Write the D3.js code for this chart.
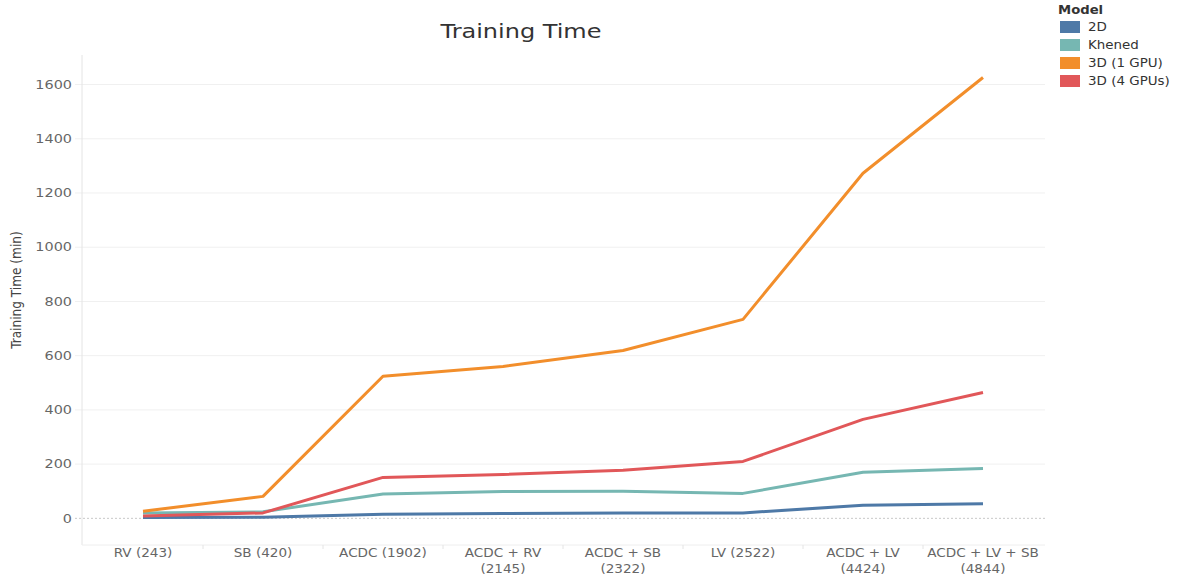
<!DOCTYPE html>
<html>
<head>
<meta charset="utf-8">
<script src="https://cdn.jsdelivr.net/npm/d3@7"></script>
<style>
  body { margin: 0; background: #fff; }
  text { font-family: "DejaVu Sans", Verdana, sans-serif; }
</style>
</head>
<body>
<svg id="chart" width="1178" height="577"></svg>
<script>
// datasets (number of images) on the x axis
const categories = [
  ["RV (243)"], ["SB (420)"], ["ACDC (1902)"], ["ACDC + RV", "(2145)"],
  ["ACDC + SB", "(2322)"], ["LV (2522)"], ["ACDC + LV", "(4424)"], ["ACDC + LV + SB", "(4844)"]
];
const models = ["2D", "Khened", "3D (1 GPU)", "3D (4 GPUs)"];
const colors = ["#4e79a7", "#76b7b2", "#f28e2b", "#e15759"];

// training time in minutes
const time2D     = [3, 4, 15, 18, 20, 20, 48, 54];
const timeKhened = [20, 24, 90, 99, 100, 92, 170, 184];
const time3D1    = [26, 81, 524, 560, 619, 734, 1273, 1626];
const time3D4    = [9, 20, 151, 162, 177, 210, 365, 464];
const series = [time2D, timeKhened, time3D1, time3D4];

const yTicks = [0, 200, 400, 600, 800, 1000, 1200, 1400, 1600];

const svg = d3.select("#chart");
const plotL = 83, plotR = 1043, plotT = 55, plotB = 543;
const stretch = 1.2; // the original text is drawn a bit wide

const x = d3.scaleBand().domain(d3.range(categories.length)).range([plotL, plotR]);
const y = d3.scaleLinear().domain([-91, 1709]).range([plotB, plotT]);

// gridlines
svg.append("g").selectAll("line")
  .data(yTicks.filter(d => d !== 0))
  .join("line")
    .attr("x1", plotL - 8).attr("x2", plotR + 2)
    .attr("y1", d => y(d)).attr("y2", d => y(d))
    .attr("stroke", "#f0f0f0").attr("stroke-width", 1);

// zero line
svg.append("line")
  .attr("x1", plotL - 8).attr("x2", plotR + 2)
  .attr("y1", y(0)).attr("y2", y(0))
  .attr("stroke", "#c8c8c8").attr("stroke-dasharray", "2,2");

// axis frame
svg.append("line")
  .attr("x1", plotL - 1).attr("x2", plotL - 1).attr("y1", plotT).attr("y2", plotB + 2)
  .attr("stroke", "#e4e4e4");
svg.append("line")
  .attr("x1", plotL - 1).attr("x2", plotR + 2).attr("y1", plotB + 2).attr("y2", plotB + 2)
  .attr("stroke", "#eeeeee");
svg.append("g").selectAll("line")
  .data(d3.range(1, categories.length))
  .join("line")
    .attr("x1", i => x(i)).attr("x2", i => x(i))
    .attr("y1", plotB + 2).attr("y2", plotB + 6)
    .attr("stroke", "#e4e4e4");

// y tick labels
svg.append("g").selectAll("text")
  .data(yTicks)
  .join("text")
    .attr("transform", d => "translate(72," + y(d) + ") scale(" + stretch + ",1)")
    .attr("dy", "0.35em")
    .attr("text-anchor", "end")
    .attr("font-size", 12)
    .attr("fill", "#666")
    .text(d => d);

// y axis title
svg.append("text")
  .attr("transform", "translate(21,290) rotate(-90)")
  .attr("text-anchor", "middle")
  .style("font-family", "'Liberation Sans Narrow', 'DejaVu Sans Condensed', sans-serif")
  .attr("font-size", 13.5)
  .attr("fill", "#444")
  .text("Training Time (min)");

// x labels
const xl = svg.append("g").selectAll("text")
  .data(categories)
  .join("text")
    .attr("transform", (d, i) => "translate(" + (x(i) + x.bandwidth() / 2) + ",557) scale(1.13,1)")
    .attr("text-anchor", "middle")
    .attr("font-size", 12)
    .attr("fill", "#666");
xl.selectAll("tspan")
  .data(d => d)
  .join("tspan")
    .attr("x", 0)
    .attr("dy", (d, j) => j === 0 ? 0 : 16)
    .text(d => d);

// lines
const line = d3.line()
  .x((d, i) => x(i) + x.bandwidth() / 2)
  .y(d => y(d));

svg.append("g").selectAll("path")
  .data(series)
  .join("path")
    .attr("d", line)
    .attr("fill", "none")
    .attr("stroke", (d, i) => colors[i])
    .attr("stroke-width", 3)
    .attr("stroke-linejoin", "round");

// title
svg.append("text")
  .attr("transform", "translate(521,38) scale(" + stretch + ",1)")
  .attr("text-anchor", "middle")
  .attr("font-size", 20)
  .attr("fill", "#333")
  .text("Training Time");

// legend
const legend = svg.append("g").attr("transform", "translate(1058,0)");
legend.append("text")
  .attr("transform", "translate(0,14) scale(1.1,1)")
  .attr("font-size", 12).attr("font-weight", "bold")
  .attr("fill", "#333")
  .text("Model");
const items = legend.selectAll("g.item")
  .data(models)
  .join("g")
    .attr("class", "item")
    .attr("transform", (d, i) => "translate(2," + (21 + i * 18) + ")");
items.append("rect")
  .attr("width", 20).attr("height", 12)
  .attr("fill", (d, i) => colors[i]);
items.append("text")
  .attr("transform", "translate(28,6) scale(1.12,1)")
  .attr("dy", "0.35em")
  .attr("font-size", 12).attr("fill", "#333")
  .text(d => d);
</script>
</body>
</html>
